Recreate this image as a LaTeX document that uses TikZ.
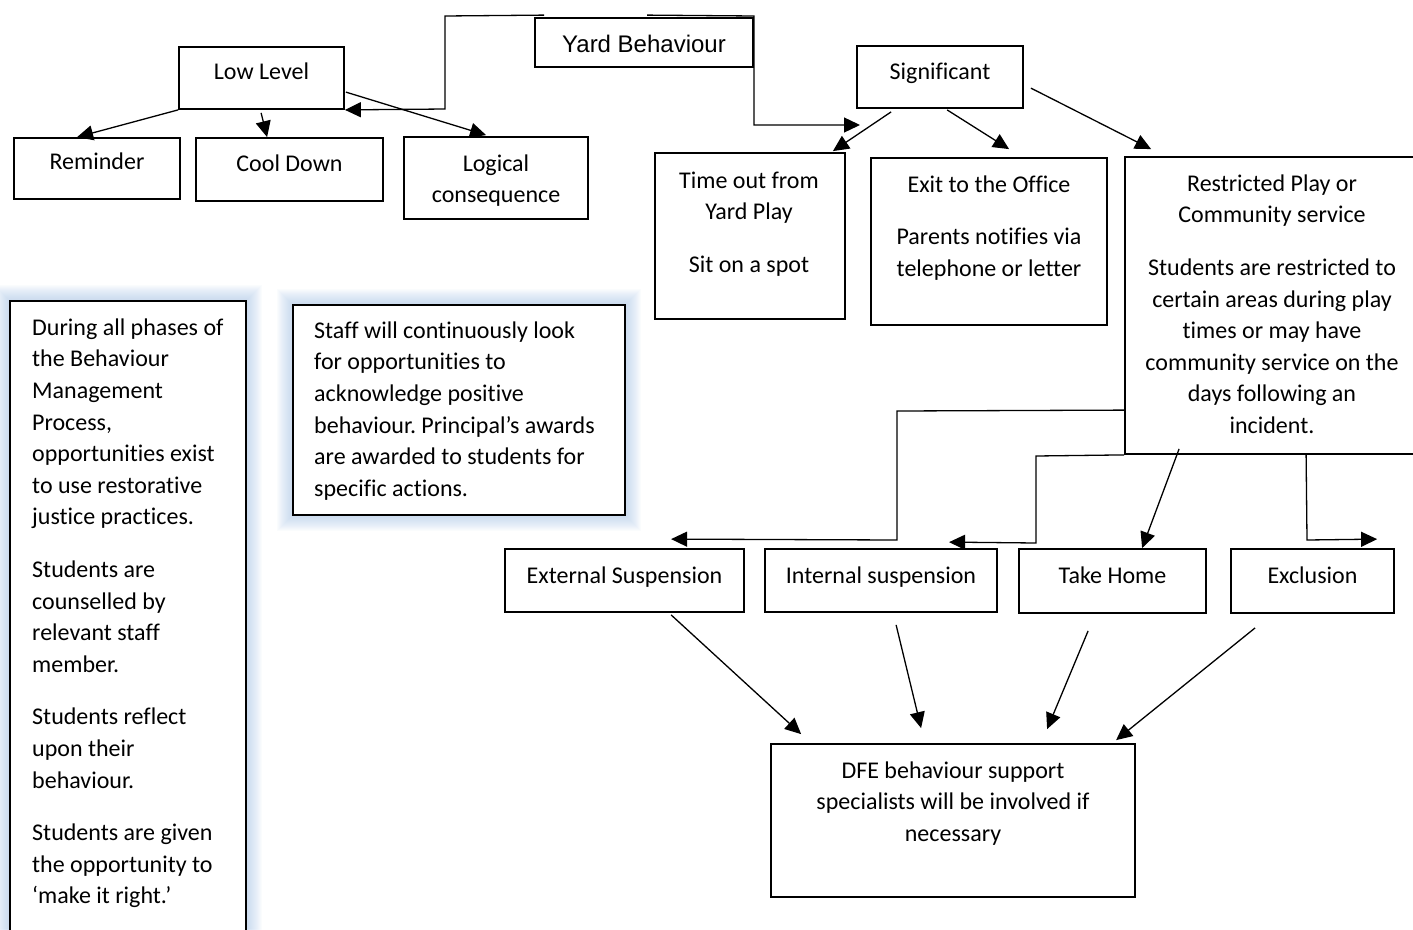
\documentclass[tikz,border=0pt]{standalone}
\usepackage{fontspec}
\setmainfont[Ligatures={NoCommon}]{Carlito}
\newfontfamily\arialf{Liberation Sans}
\usetikzlibrary{arrows.meta,calc}
\definecolor{glowc}{RGB}{178,204,236}
\tikzset{
  box/.style={draw, line width=1.8pt, fill=white, inner sep=0pt},
  txt/.style={inner sep=0pt, align=center, font=\fontsize{24}{31.6}\selectfont},
  ltxt/.style={inner sep=0pt, align=left, font=\fontsize{24}{31.6}\selectfont},
  conn/.style={line width=1.3pt},
  arr/.style={conn, -{Triangle[length=16pt,width=15pt]}},
  glow/.style={glowc, opacity=0.055},
}
\newcommand{\mkbox}[5]{\node[box, minimum width=#4, minimum height=#5] (#1) at (#2,#3) {};}
\frenchspacing
\begin{document}
\begin{tikzpicture}[x=1pt,y=-1pt]
\useasboundingbox (0,0) rectangle (1413,929);
\fill[white] (0,0) rectangle (1413,929);

% glowing text boxes
\coordinate (leftnw) at (10,301);
\coordinate (leftse) at (246,945);
\coordinate (midnw) at (293,305);
\coordinate (midse) at (625,515);
\foreach \i in {1,...,16}{
  \fill[glow] ($(leftnw)+(-\i,-\i)$) rectangle ($(leftse)+(\i,\i)$);
  \fill[glow] ($(midnw)+(-\i,-\i)$) rectangle ($(midse)+(\i,\i)$);
}

% boxes
\mkbox{yard}{644}{42.5}{218}{49}
\mkbox{low}{261.5}{78}{165}{62}
\mkbox{rem}{97}{168.5}{166}{61}
\mkbox{cool}{289.5}{169.5}{187}{63}
\mkbox{logic}{496}{178}{184}{82}
\mkbox{sig}{940}{77}{166}{62}
\mkbox{tout}{750}{236}{190}{166}
\mkbox{exit}{989}{241.5}{236}{167}
\mkbox{restr}{1272}{305.5}{294}{297}
\mkbox{ext}{624.5}{580.5}{239}{63}
\mkbox{int}{881}{580.5}{232}{63}
\mkbox{take}{1112.5}{581}{187}{64}
\mkbox{excl}{1312.5}{581}{163}{64}
\mkbox{dfe}{953}{820.5}{364}{153}
\mkbox{left}{128}{623}{236}{644}
\mkbox{mid}{459}{410}{332}{210}

% texts
\node[inner sep=0pt, font=\arialf\fontsize{24}{29}\selectfont] (yardt) at (644,44) {Yard Behaviour};
\node[txt, anchor=north] (lowt) at (261.5,57) {\strut Low Level};
\node[txt, anchor=north] (remt) at (97,147) {\strut Reminder};
\node[txt, anchor=north] (coolt) at (289.5,149) {\strut Cool Down};
\node[txt, anchor=north] (logict) at (496,149) {\strut Logical\\consequence};
\node[txt, anchor=north] (sigt) at (940,57) {\strut Significant};
\node[txt, anchor=north] (toutt) at (749,166) {\strut Time out from\\Yard Play\\[21pt]Sit on a spot};
\node[txt, anchor=north] (exitt) at (989,170) {\strut Exit to the Office\\[21pt]Parents notifies via\\telephone or letter};
\node[txt, anchor=north] (restrt) at (1272,169) {\strut Restricted Play or\\Community service\\[21pt]Students are restricted to\\certain areas during play\\times or may have\\community service on the\\days following an\\incident.};
\node[txt, anchor=north] (extt) at (624.5,561) {\strut External Suspension};
\node[txt, anchor=north] (intt) at (881,561) {\strut Internal suspension};
\node[txt, anchor=north] (taket) at (1112.5,561) {\strut Take Home};
\node[txt, anchor=north] (exclt) at (1312.5,561) {\strut Exclusion};
\node[txt, anchor=north] (dfet) at (953,756) {\strut DFE behaviour support\\specialists will be involved if\\necessary};
\node[ltxt, anchor=north west] (leftt) at (32,313) {\strut During all phases of\\the Behaviour\\Management\\Process,\\opportunities exist\\to use restorative\\justice practices.\\[21pt]Students are\\counselled by\\relevant staff\\member.\\[21pt]Students reflect\\upon their\\behaviour.\\[21pt]Students are given\\the opportunity to\\‘make it right.’};
\node[ltxt, anchor=north west] (midt) at (314,316) {\strut Staff will continuously look\\for opportunities to\\acknowledge positive\\behaviour. Principal’s awards\\are awarded to students for\\specific actions.};

% connectors from Yard Behaviour
\coordinate (yardend) at (860,125);
\draw[arr] ($(yard.north west)+(10,-2)$) -- (445,16) -- (445,109) -- (low.south east);
\draw[arr] ($(yard.north west)+(113,-2)$) -- (754,16) -- (754,125) -- (yardend);

% Low level
\draw[arr] (low.south west) -- ($(rem.north west)+(64,0)$);
\draw[arr] ($(low.south west)+(83,3)$) -- ($(cool.north west)+(72,0)$);
\draw[arr] ($(low.north east)+(1,46)$) -- ($(logic.north west)+(83,-1)$);

% Significant
\draw[arr] ($(sig.south west)+(35,3)$) -- ($(tout.north east)+(-13,-1)$);
\draw[arr] ($(sig.south west)+(91,1)$) -- ($(exit.north west)+(139,-8)$);
\draw[arr] ($(sig.north east)+(7,43)$) -- ($(restr.north west)+(27,-7)$);

% Restricted
\draw[arr] ($(restr.north west)+(0,254)$) -- (897,411) -- (897,540) -- ($(ext.north west)+(167,-9)$);
\draw[arr] (restr.south west) -- (1036,456) -- (1036,543) -- ($(int.north west)+(185,-6)$);
\draw[arr] ($(restr.south west)+(55,-6)$) -- ($(take.north west)+(124,0)$);
\draw[arr] ($(restr.south west)+(182,0)$) -- (1307,540) -- ($(excl.north west)+(147,-9)$);

% to DFE
\draw[arr] ($(ext.south west)+(167,2)$) -- ($(dfe.north west)+(31,-9)$);
\draw[arr] ($(int.south west)+(132,12)$) -- ($(dfe.north west)+(151,-15)$);
\draw[arr] ($(take.south west)+(70,17)$) -- ($(dfe.north west)+(277,-14)$);
\draw[arr] ($(excl.south west)+(25,14)$) -- ($(dfe.north west)+(346,-3)$);
\end{tikzpicture}
\end{document}
